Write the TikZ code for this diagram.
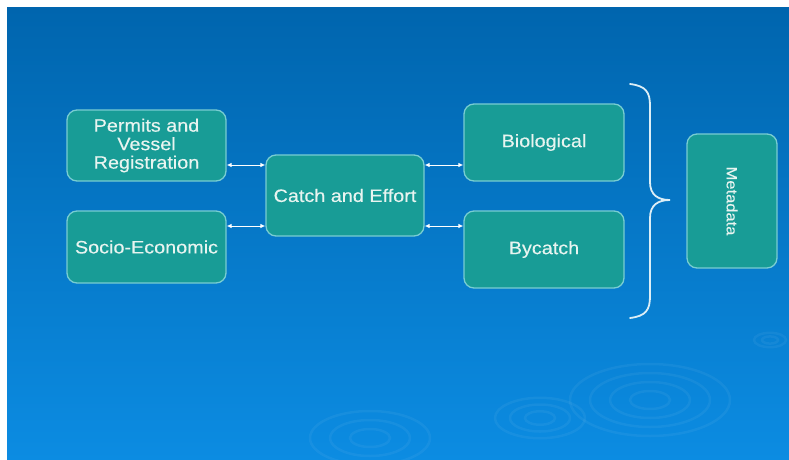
\documentclass[tikz,border=0pt]{standalone}
\usepackage{fontspec}
\setmainfont[FakeStretch=1.1,FakeBold=0.3]{Liberation Sans}
\usetikzlibrary{arrows.meta}
\definecolor{bgtop}{RGB}{0,101,174}
\definecolor{bgbot}{RGB}{12,140,226}
\definecolor{boxfill}{RGB}{24,156,150}
\definecolor{boxline}{RGB}{120,205,210}
\definecolor{txt}{RGB}{232,244,240}
\definecolor{brace}{RGB}{220,238,246}
\tikzset{
  box/.style={draw=boxline, line width=1.3pt, fill=boxfill, rounded corners=10pt,
    inner sep=0pt, align=center, text=txt,
    font=\fontsize{18}{18.5}\selectfont},
  arr/.style={draw=white, line width=0.9pt, {Latex[length=5pt,width=4.5pt]}-{Latex[length=5pt,width=4.5pt]}},
  ripple/.style={draw=white, opacity=0.05, line width=2.5pt}
}
\begin{document}
\begin{tikzpicture}[x=1pt,y=-1pt]
\useasboundingbox (0,0) rectangle (789,460);
\fill[white] (0,0) rectangle (789,460);
\shade[top color=bgtop, bottom color=bgbot] (7,8) rectangle (789,460);
% ripples
\foreach \r in {20,40,60,80}{
  \draw[ripple] (650,400) ellipse ({\r} and {\r*0.45});
}
\foreach \r in {15,30,45}{
  \draw[ripple] (540,418) ellipse ({\r} and {\r*0.45});
}
\foreach \r in {20,40,60}{
  \draw[ripple] (370,438) ellipse ({\r} and {\r*0.45});
}
\foreach \r in {8,16}{
  \draw[ripple] (770,340) ellipse ({\r} and {\r*0.45});
}
% boxes
\node[box, minimum width=159pt, minimum height=71pt] (permits) at (146.5,145.5) {Permits and\\Vessel\\Registration};
\node[box, minimum width=159pt, minimum height=72pt] (socio) at (146.5,247) {Socio-Economic};
\node[box, minimum width=158pt, minimum height=81pt] (catch) at (345,195.5) {Catch and Effort};
\node[box, minimum width=160pt, minimum height=77pt] (bio) at (544,142.5) {Biological};
\node[box, minimum width=160pt, minimum height=77pt] (bycatch) at (544,249.5) {Bycatch};
\node[box, minimum width=90pt, minimum height=134pt] (meta) at (732,201) {};
\node[text=txt, rotate=-90, font=\fontsize{15}{15}\selectfont, inner sep=0pt] (metalabel) at (meta.center) {Metadata};
% arrows
\draw[arr] (permits.east |- 0,165) -- (catch.west |- 0,165);
\draw[arr] (socio.east |- 0,226) -- (catch.west |- 0,226);
\draw[arr] (catch.east |- 0,165) -- (bio.west |- 0,165);
\draw[arr] (catch.east |- 0,226) -- (bycatch.west |- 0,226);
% brace
\draw[brace, line width=1.8pt, line cap=round]
  (630,84) .. controls (646,86) and (650,92) .. (650,106)
  -- (650,182) .. controls (650,195) and (658,200) .. (670,200)
  .. controls (658,200) and (650,205) .. (650,218)
  -- (650,296) .. controls (650,310) and (646,316) .. (630,318);
\end{tikzpicture}
\end{document}
